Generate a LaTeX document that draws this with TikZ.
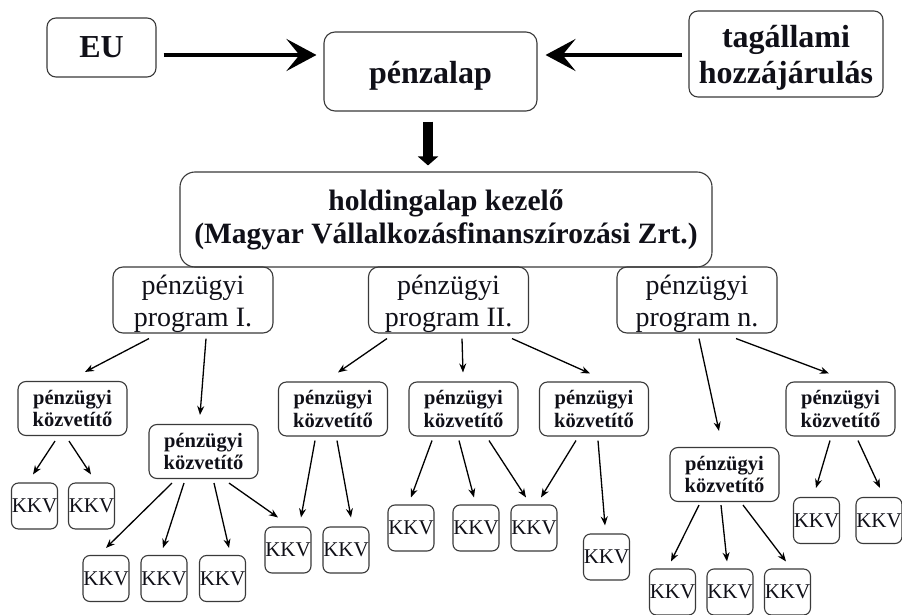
\documentclass[tikz,border=0pt]{standalone}
\usepackage{fontspec}
\setmainfont{Liberation Serif}
\usetikzlibrary{calc,arrows.meta}
\definecolor{boxc}{HTML}{3A3A3A}
\definecolor{txt}{HTML}{101018}
\newcommand\lowtxt[2]{\raisebox{-#1}[\height][\depth]{\begin{tabular}{@{}c@{}}#2\end{tabular}}}
\tikzset{
  box/.style={draw=boxc, line width=1.1pt, rounded corners=9pt, inner sep=0pt, align=center, text=txt},
  topbox/.style={box, font=\fontsize{32}{36}\selectfont\bfseries},
  holdbox/.style={box, rounded corners=15pt, font=\fontsize{29.5}{33}\selectfont\bfseries},
  progbox/.style={box, rounded corners=10pt, minimum width=160pt, minimum height=66pt, font=\fontsize{28}{32}\selectfont},
  intbox/.style={box, rounded corners=8pt, minimum width=109pt, minimum height=54pt, font=\fontsize{20.5}{22.5}\selectfont\bfseries},
  kkv/.style={box, rounded corners=7pt, minimum width=46pt, minimum height=46pt, font=\fontsize{21}{24}\selectfont},
  bigarr/.style={line width=4.5pt, -{Stealth[length=30pt,width=32pt,inset=13pt]}},
  downarr/.style={line width=10pt, -{Triangle[length=9pt,width=20pt]}},
  thinarr/.style={line width=1.3pt, -{Stealth[length=9pt,width=7pt]}}
}
\begin{document}
\begin{tikzpicture}[x=1pt,y=-1pt]
\useasboundingbox[fill=white] (0,0) rectangle (902,615);
% top row
\node[topbox, minimum width=109pt, minimum height=59pt] (EU) at (101.5,47.5) {EU};
\node[topbox, minimum width=213pt, minimum height=79pt, rounded corners=11pt] (penz) at (430.5,71.5) {\lowtxt{5pt}{pénzalap}};
\node[topbox, minimum width=194pt, minimum height=86pt] (tag) at (786,54) {\lowtxt{4pt}{tagállami\\[0pt]hozzájárulás}};
% holding
\node[holdbox, minimum width=532pt, minimum height=95pt] (hold) at (446,219.5) {holdingalap kezelő\\(Magyar Vállalkozásfinanszírozási Zrt.)};
% programs
\node[progbox] (p1) at (193,300) {\lowtxt{4pt}{pénzügyi\\program I.}};
\node[progbox] (p2) at (448.5,300) {\lowtxt{4pt}{pénzügyi\\program II.}};
\node[progbox] (pn) at (697,300) {\lowtxt{4pt}{pénzügyi\\program n.}};
% intermediaries
\node[intbox] (iA) at (72.5,408.5) {pénzügyi\\közvetítő};
\node[intbox] (iB) at (203.5,451.5) {pénzügyi\\közvetítő};
\node[intbox] (iC) at (333,409) {pénzügyi\\közvetítő};
\node[intbox] (iD) at (463.5,409) {pénzügyi\\közvetítő};
\node[intbox] (iE) at (594,409) {pénzügyi\\közvetítő};
\node[intbox] (iF) at (724.5,474.5) {pénzügyi\\közvetítő};
\node[intbox] (iG) at (840.5,409) {pénzügyi\\közvetítő};
% KKV
\node[kkv] (k1) at (34.5,506) {KKV};
\node[kkv] (k2) at (91.5,506) {KKV};
\node[kkv] (k3) at (106,578.5) {KKV};
\node[kkv] (k4) at (164,578.5) {KKV};
\node[kkv] (k5) at (222.5,578.5) {KKV};
\node[kkv] (k6) at (288,550) {KKV};
\node[kkv] (k7) at (346,550) {KKV};
\node[kkv] (k8) at (411,528) {KKV};
\node[kkv] (k9) at (476,528) {KKV};
\node[kkv] (k10) at (534,528) {KKV};
\node[kkv] (k11) at (606.5,557) {KKV};
\node[kkv] (k12) at (672.5,592) {KKV};
\node[kkv] (k13) at (730,592) {KKV};
\node[kkv] (k14) at (787.5,592) {KKV};
\node[kkv] (k15) at (816.5,520.5) {KKV};
\node[kkv] (k16) at (879,520.5) {KKV};
% top arrows
\draw[bigarr] ($(EU.east)+(7,7.5)$) -- ($(penz.west)+(-7,-16.5)$);
\draw[bigarr] ($(tag.west)+(-6,1)$) -- ($(penz.east)+(8,-16.5)$);
\draw[downarr] ($(penz.south)+(-2.5,10)$) -- ($(hold.north)+(-18,-6)$);
% programs to intermediaries
\draw[thinarr] ($(p1.south)+(-44,5)$) -- ($(iA.north)+(12.5,-9)$);
\draw[thinarr] ($(p1.south)+(13,5)$) -- ($(iB.north)+(-3.5,-9)$);
\draw[thinarr] ($(p2.south)+(-61.5,5)$) -- ($(iC.north)+(5,-9)$);
\draw[thinarr] ($(p2.south)+(13.5,5)$) -- ($(iD.north)+(-0.5,-9)$);
\draw[thinarr] ($(p2.south)+(63.5,5)$) -- ($(iE.north)+(-4,-8)$);
\draw[thinarr] ($(pn.south)+(2,5)$) -- ($(iF.north)+(-5.5,-16)$);
\draw[thinarr] ($(pn.south)+(39,5)$) -- ($(iG.north)+(-11.5,-8)$);
% intermediaries to KKV
\draw[thinarr] ($(iA.south)+(-17.5,5)$) -- ($(k1.north)+(-1.5,-8)$);
\draw[thinarr] ($(iA.south)+(-3.5,5)$) -- ($(k2.north)+(-0.5,-8)$);
\draw[thinarr] ($(iB.south)+(-31.5,4)$) -- ($(k3.north)+(0,-7)$);
\draw[thinarr] ($(iB.south)+(-19.5,4)$) -- ($(k4.north)+(-1,-7)$);
\draw[thinarr] ($(iB.south)+(10.5,4)$) -- ($(k5.north)+(6.5,-7)$);
\draw[thinarr] ($(iB.south)+(25.5,4)$) -- ($(k6.north)+(-10,-9)$);
\draw[thinarr] ($(iC.south)+(-18,4)$) -- ($(k6.north)+(13,-9)$);
\draw[thinarr] ($(iC.south)+(4,4)$) -- ($(k7.north)+(5,-9)$);
\draw[thinarr] ($(iD.south)+(-31.5,4)$) -- ($(k8.north)+(0,-7)$);
\draw[thinarr] ($(iD.south)+(-4.5,4)$) -- ($(k9.north)+(-2,-7)$);
\draw[thinarr] ($(iD.south)+(25.5,4)$) -- ($(k10.north)+(-8,-7)$);
\draw[thinarr] ($(iE.south)+(-18,4)$) -- ($(k10.north)+(7,-7)$);
\draw[thinarr] ($(iE.south)+(4,4)$) -- ($(k11.north)+(-1.5,-8)$);
\draw[thinarr] ($(iF.south)+(-25.5,3)$) -- ($(k12.north)+(-1.5,-7)$);
\draw[thinarr] ($(iF.south)+(-3.5,3)$) -- ($(k13.north)+(-3,-7)$);
\draw[thinarr] ($(iF.south)+(18.5,3)$) -- ($(k14.north)+(-1.5,-7)$);
\draw[thinarr] ($(iG.south)+(-10.5,4)$) -- ($(k15.north)+(-0.5,-9)$);
\draw[thinarr] ($(iG.south)+(17.5,4)$) -- ($(k16.north)+(1,-9)$);
\end{tikzpicture}
\end{document}
